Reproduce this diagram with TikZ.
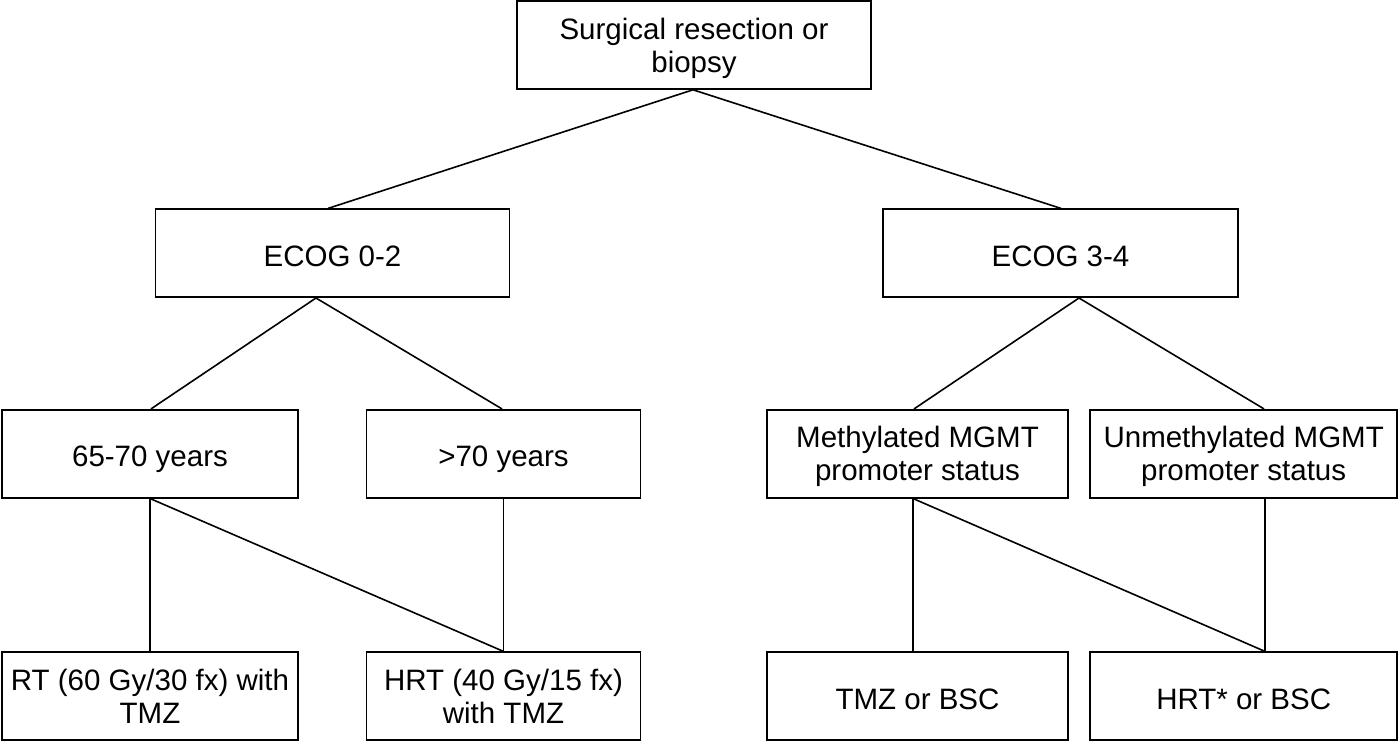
\documentclass[tikz,border=0pt]{standalone}
\usepackage{fontspec}
\setmainfont{Liberation Sans}
\begin{document}
\begin{tikzpicture}[x=1pt,y=-1pt,
  box/.style={draw=black,line width=1.6pt,rectangle,inner sep=0pt,align=center,
    font=\fontsize{29.5}{33}\selectfont,minimum height=88pt},
  one/.style={text height=32pt,text depth=6pt},
  two/.style={text height=60pt,text depth=6pt},
  link/.style={draw=black,line width=1.6pt}]
\useasboundingbox[fill=white] (0,0) rectangle (1399,742);
% boxes
\node[box,two,minimum width=354pt] (top) at (694,45) {Surgical resection or\\biopsy};
\node[box,one,minimum width=354pt] (e02) at (332.5,253.2) {ECOG 0-2};
\node[box,one,minimum width=355pt] (e34) at (1060.5,253.2) {ECOG 3-4};
\node[box,one,minimum width=296pt] (age1) at (150,453.7) {65-70 years};
\node[box,one,minimum width=274pt] (age2) at (503.5,453.7) {>70 years};
\node[box,two,minimum width=301pt] (meth) at (917.5,453.7) {Methylated MGMT\\promoter status};
\node[box,two,minimum width=307pt] (umeth) at (1243.7,453.7) {Unmethylated MGMT\\promoter status};
\node[box,two,minimum width=296pt] (rt) at (150,696.2) {RT (60 Gy/30 fx) with\\TMZ};
\node[box,two,minimum width=274pt] (hrt) at (503.5,696.2) {HRT (40 Gy/15 fx)\\with TMZ};
\node[box,one,minimum width=301pt] (tmz) at (917.5,696.2) {TMZ or BSC};
\node[box,one,minimum width=307pt] (hrtb) at (1243.7,696.2) {HRT* or BSC};
% connectors
\draw[link] ([xshift=-1pt]top.south) -- ([xshift=-4.5pt]e02.north);
\draw[link] ([xshift=-1pt]top.south) -- ([xshift=0.5pt]e34.north);
\draw[link] ([xshift=-16.5pt]e02.south) -- ([xshift=1pt]age1.north);
\draw[link] ([xshift=-16.5pt]e02.south) -- ([xshift=-1.5pt]age2.north);
\draw[link] ([xshift=18.5pt]e34.south) -- ([xshift=-3.5pt]meth.north);
\draw[link] ([xshift=18.5pt]e34.south) -- ([xshift=20.3pt]umeth.north);
\draw[link] (age1.south) -- (rt.north);
\draw[link] (age1.south) -- (hrt.north);
\draw[link] (age2.south) -- (hrt.north);
\draw[link] ([xshift=-4.5pt]meth.south) -- ([xshift=-4.5pt]tmz.north);
\draw[link] ([xshift=-4.5pt]meth.south) -- ([xshift=21.3pt]hrtb.north);
\draw[link] ([xshift=21.3pt]umeth.south) -- ([xshift=21.3pt]hrtb.north);
\end{tikzpicture}
\end{document}
